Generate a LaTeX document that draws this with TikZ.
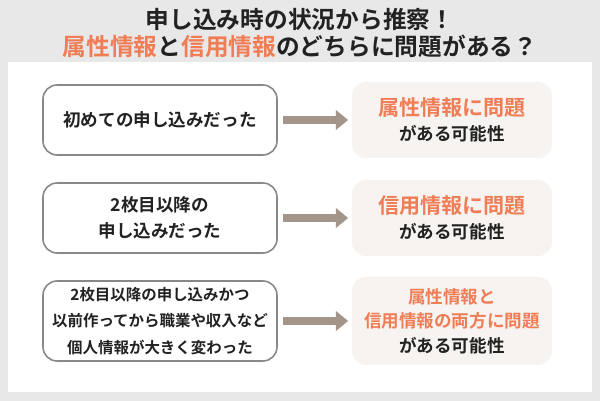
\documentclass[tikz,border=0pt]{standalone}
\usepackage{fontspec}
\usetikzlibrary{arrows.meta}
\setmainfont{Noto Sans CJK JP}[BoldFont={Noto Sans CJK JP Bold}]
\definecolor{bg}{HTML}{E8E8E8}
\definecolor{org}{HTML}{F07D55}
\definecolor{txt}{HTML}{222222}
\definecolor{arr}{HTML}{A39589}
\definecolor{res}{HTML}{F6F3F0}
\definecolor{bd}{HTML}{888888}
\begin{document}
\begin{tikzpicture}[x=0.02cm,y=-0.02cm,
  lbox/.style={draw=bd,line width=0.9pt,rounded corners=8pt,fill=white,minimum width=234*0.02cm,align=center,text=txt,font=\bfseries\fontsize{10}{15}\selectfont},
  rbox/.style={fill=res,rounded corners=8pt,minimum width=200*0.02cm,align=center,text=txt,font=\bfseries\fontsize{10}{14}\selectfont},
  conn/.style={draw=arr,line width=4.5pt,-{Triangle[length=7pt,width=11pt]},shorten >=0pt}]
\fill[bg] (0,0) rectangle (600,401);
\useasboundingbox (0,0) rectangle (600,401);
\fill[white] (8,62) rectangle (592,392);
\node[text=txt,font=\bfseries\fontsize{13.5}{15}\selectfont] (t1) at (300,19) {申し込み時の状況から推察！};
\node[text=txt,font=\bfseries\fontsize{13.5}{15}\selectfont] (t2) at (300,46) {\textcolor{org}{属性情報}と\textcolor{org}{信用情報}のどちらに問題がある？};
\node[lbox,minimum height=70*0.02cm] (l1) at (160,120) {初めての申し込みだった};
\node[lbox,minimum height=70*0.02cm] (l2) at (160,218) {2枚目以降の\\申し込みだった};
\node[lbox,minimum height=80*0.02cm] (l3) at (160,321) {\fontsize{8.8}{13.5}\selectfont 2枚目以降の申し込みかつ\\\fontsize{8.8}{13.5}\selectfont 以前作ってから職業や収入など\\\fontsize{8.8}{13.5}\selectfont 個人情報が大きく変わった};
\node[rbox,minimum height=76*0.02cm] (r1) at (452,120) {{\color{org}\fontsize{12}{16}\selectfont 属性情報に問題}\\がある可能性};
\node[rbox,minimum height=76*0.02cm] (r2) at (452,218) {{\color{org}\fontsize{12}{16}\selectfont 信用情報に問題}\\がある可能性};
\node[rbox,minimum height=88*0.02cm] (r3) at (452,321) {{\color{org}属性情報と}\\{\color{org}信用情報の両方に問題}\\がある可能性};
\foreach \i in {1,2,3}{\draw[conn] ([xshift=3pt]l\i.east) -- ([xshift=-2pt]r\i.west);}
\end{tikzpicture}
\end{document}
